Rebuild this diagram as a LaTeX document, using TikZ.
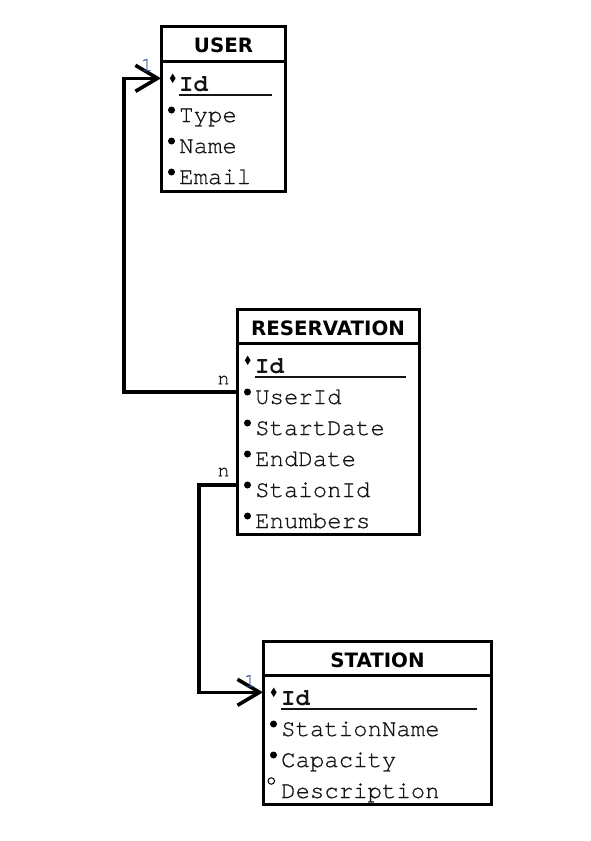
\documentclass[tikz,border=0pt]{standalone}
\usepackage{fontspec}
\setmainfont{Liberation Sans}
\newfontfamily\fieldfont{TeX Gyre Cursor}[UprightFeatures={FakeBold=0.6}]
\newfontfamily\hdrfont{DejaVu Sans}
\usetikzlibrary{arrows.meta,shapes.geometric}
\definecolor{txt}{HTML}{141414}
\definecolor{onecol}{HTML}{2E4C8C}
\begin{document}
\begin{tikzpicture}[x=1pt,y=-1pt,
  entity/.style={draw, line width=3pt, inner sep=0pt, outer sep=0pt, anchor=north west},
  hdr/.style={font=\fontsize{19.8}{22}\hdrfont\bfseries, anchor=base, inner sep=0pt},
  fld/.style={font=\fontsize{24}{26}\fieldfont, anchor=base west, inner sep=0pt, text=txt},
  keyfld/.style={fld, font=\fontsize{24}{26}\fieldfont\bfseries},
  bdot/.style={circle, fill=black, inner sep=0pt, minimum size=7pt},
  odot/.style={circle, draw=black, line width=1pt, inner sep=0pt, minimum size=6.5pt},
  kdia/.style={diamond, fill=black, inner sep=0pt, minimum width=6pt, minimum height=9.5pt},
  uline/.style={line width=1.5pt, txt},
  conn/.style={line width=3.6pt, line join=miter},
  onearr/.style={-{Straight Barb[length=22pt,width=26pt,line width=3.6pt]}},
  mult/.style={font=\fontsize{20}{22}\fieldfont, inner sep=0pt, text=txt},
  onelbl/.style={mult, text=onecol}
]
\useasboundingbox[fill=white] (0,0) rectangle (591,841);

% ---------- USER ----------
\node[entity, minimum width=124.5pt, minimum height=165.5pt] (user) at (161,26) {};
\draw[line width=3pt] (user.west |- 0,61) -- (user.east |- 0,61);
\node[hdr] (user-t) at (223.5,52.5) {USER};
\node[keyfld] (u-id) at (179,91) {Id};
\node[fld] (u-type) at (179,122) {Type};
\node[fld] (u-name) at (179,153) {Name};
\node[fld] (u-email) at (179,184) {Email};
\node[kdia] (ud-id) at ([xshift=-6.3pt,yshift=12.7pt]u-id.base west) {};
\node[bdot] (ub-type) at ([xshift=-7.5pt,yshift=12pt]u-type.base west) {};
\node[bdot] (ub-name) at ([xshift=-7.5pt,yshift=12pt]u-name.base west) {};
\node[bdot] (ub-email) at ([xshift=-7.5pt,yshift=12pt]u-email.base west) {};
\draw[uline] ([yshift=-4pt]u-id.base west) -- ([yshift=-4pt,xshift=-14pt]u-id.base west -| user.east);

% ---------- RESERVATION ----------
\node[entity, minimum width=182.5pt, minimum height=225.5pt] (res) at (237,309) {};
\draw[line width=3pt] (res.west |- 0,343) -- (res.east |- 0,343);
\node[hdr] (res-t) at (328,335) {RESERVATION};
\node[keyfld] (r-id) at (255,373) {Id};
\node[fld] (r-userid) at (255,404) {UserId};
\node[fld] (r-start) at (255,435) {StartDate};
\node[fld] (r-end) at (255,466) {EndDate};
\node[fld] (r-staionid) at (255,497) {StaionId};
\node[fld] (r-enum) at (255,528) {Enumbers};
\node[kdia] (rd-id) at ([xshift=-7.3pt,yshift=12.7pt]r-id.base west) {};
\node[bdot] (rb-userid) at ([xshift=-7.5pt,yshift=12pt]r-userid.base west) {};
\node[bdot] (rb-start) at ([xshift=-7.5pt,yshift=12pt]r-start.base west) {};
\node[bdot] (rb-end) at ([xshift=-7.5pt,yshift=12pt]r-end.base west) {};
\node[bdot] (rb-staionid) at ([xshift=-7.5pt,yshift=12pt]r-staionid.base west) {};
\node[bdot] (rb-enum) at ([xshift=-7.5pt,yshift=12pt]r-enum.base west) {};
\draw[uline] ([yshift=-4pt]r-id.base west) -- ([yshift=-4pt,xshift=-14pt]r-id.base west -| res.east);

% ---------- STATION ----------
\node[entity, minimum width=228pt, minimum height=163.5pt] (station) at (263,641) {};
\draw[line width=3pt] (station.west |- 0,675) -- (station.east |- 0,675);
\node[hdr] (st-t) at (377.5,667) {STATION};
\node[keyfld] (s-id) at (281,705) {Id};
\node[fld] (s-name) at (281,736) {StationName};
\node[fld] (s-cap) at (281,767) {Capacity};
\node[fld] (s-desc) at (281,798) {Description};
\node[kdia] (sd-id) at ([xshift=-7.3pt,yshift=12.7pt]s-id.base west) {};
\node[bdot] (sb-name) at ([xshift=-7.5pt,yshift=12pt]s-name.base west) {};
\node[bdot] (sb-cap) at ([xshift=-7.5pt,yshift=12pt]s-cap.base west) {};
\node[odot] (so-desc) at ([xshift=-9.7pt,yshift=17pt]s-desc.base west) {};
\draw[uline] ([yshift=-4pt]s-id.base west) -- ([yshift=-4pt,xshift=-14pt]s-id.base west -| station.east);

% ---------- connectors ----------
\draw[conn, onearr] (res.west |- rb-userid) -- ++(-113,0) |- (user.west |- ud-id);
\draw[conn, onearr] (res.west |- rb-staionid) -- ++(-38,0) |- (station.west |- sd-id);

\node[mult] (m-n1) at (223.5,380) {n};
\node[onelbl] (m-11) at (147,65) {1};
\node[mult] (m-n2) at (223.5,472) {n};
\node[onelbl] (m-12) at (250,681) {1};
\end{tikzpicture}
\end{document}
